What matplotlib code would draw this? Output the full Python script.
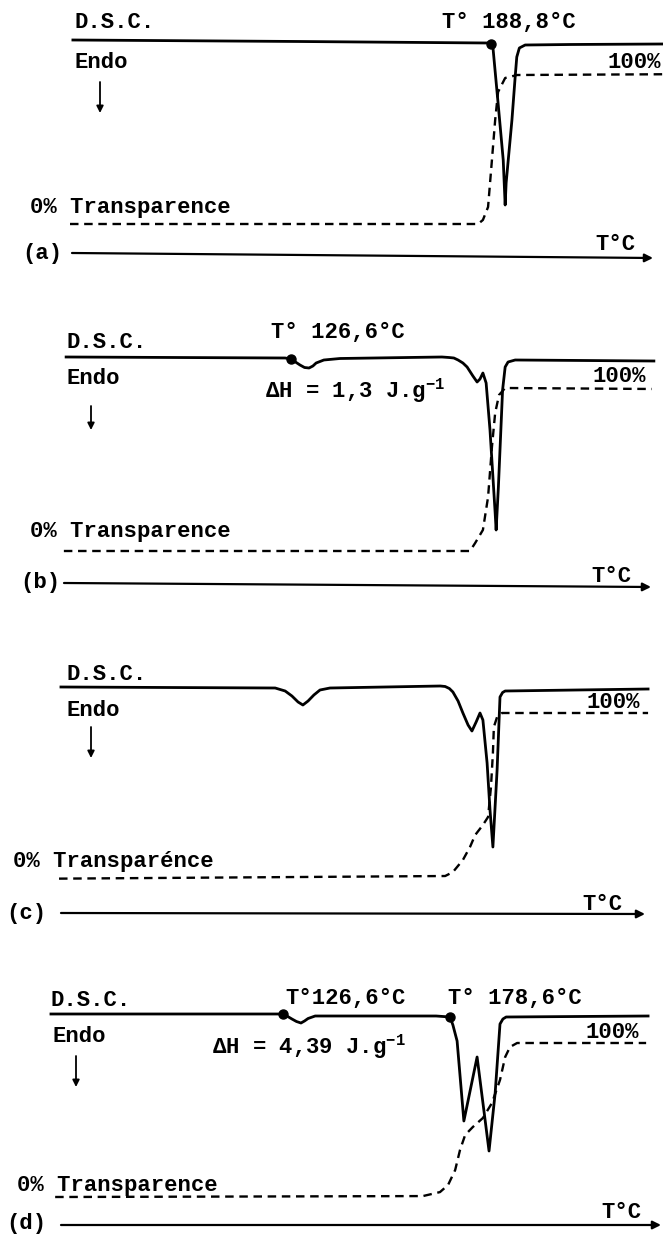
import matplotlib.pyplot as plt

plt.rcParams['font.family'] = ['Liberation Mono', 'DejaVu Sans Mono']
plt.rcParams['font.weight'] = 'bold'
plt.rcParams['mathtext.default'] = 'regular'

W, H = 663, 1235

# values: T in degC, DSC in arbitrary units (0 = baseline,
# negative = endo), transparency in %
# (a)
dsc_a_T = [59.6, 130.0, 188.3, 189.2, 189.8, 191.4, 193.0, 193.6, 193.9, 195.7, 196.7, 197.2, 198.0, 199.8, 213.7, 242.5]
dsc_a_q = [0.1, -0.05, -0.2, -0.25, -0.6, -6.2, -11.9, -16.4, -14.2, -7.9, -3.6, -1.6, -0.7, -0.4, -0.35, -0.3]
tr_a_T = [58.7, 185.2, 186.7, 188.3, 189.5, 190.5, 191.4, 193.6, 197.3, 242.5]
tr_a_p = [0, 0, 2.7, 11.4, 43.0, 69.8, 88.6, 98.0, 100, 100.5]
onset_a = [189.2]

# (b)
dsc_b_T = [57.5, 125.4, 127.2, 128.6, 130.0, 131.4, 132.8, 134.0, 135.0, 137.4, 142.4, 174.0, 176.2, 177.7, 179.0,
           180.5, 181.8, 183.6, 184.9, 185.8, 186.7, 187.7, 188.9, 190.5, 190.8, 191.5, 192.8, 193.6, 194.5,
           196.7, 239.7]
dsc_b_q = [0, -0.1, -0.2, -0.5, -0.8, -1.05, -1.1, -0.9, -0.6, -0.3, -0.15, 0, -0.05, -0.1, -0.3,
           -0.6, -1.0, -1.9, -2.5, -2.2, -1.6, -2.6, -7.3, -15.6, -17.3, -13.0, -3.3, -1.0, -0.5,
           -0.3, -0.4]
tr_b_T = [56.8, 182.7, 184.3, 186.7, 188.3, 189.5, 190.5, 191.7, 193.6, 239.1]
tr_b_p = [0, 0, 4.9, 12.9, 33.1, 63.8, 84.7, 95.7, 100, 99.4]
onset_b = [127.2]

# (c)
dsc_c_T = [55.9, 122.3, 125.4, 127.5, 129.4, 130.9, 132.5, 134.3, 136.2, 139.3, 173.5, 175.0, 176.3, 177.4,
           179.0, 180.5, 182.1, 183.3, 184.6, 185.8, 186.7, 188.0, 188.9, 189.8, 191.1, 192.0, 192.8, 193.6, 237.9]
dsc_c_q = [0, -0.1, -0.4, -0.9, -1.5, -1.8, -1.4, -0.8, -0.3, -0.1, 0.1, 0.05, -0.15, -0.5,
           -1.4, -2.6, -3.8, -4.4, -3.5, -2.6, -3.3, -7.6, -12.3, -16.0, -8.3, -1.0, -0.55, -0.4, -0.2]
tr_c_T = [55.3, 175.0, 177.4, 180.5, 182.7, 184.3, 186.7, 188.3, 189.2, 189.8, 190.1, 191.1, 192.6, 237.9]
tr_c_p = [-1.0, 0.6, 3.0, 10.4, 18.3, 25.6, 31.7, 36.6, 54.9, 75.6, 91.5, 97.6, 100, 100]

# (d)
dsc_d_T = [52.8, 123.2, 124.7, 126.2, 127.5, 128.9, 130.3, 131.4, 132.5, 134.7, 172.2, 176.5, 177.4, 178.7,
           180.8, 184.9, 188.6, 190.5, 192.0, 192.9, 193.9, 237.9]
dsc_d_q = [0, 0, 0, -0.25, -0.5, -0.75, -0.9, -0.7, -0.45, -0.2, -0.2, -0.3, -1.1, -2.7,
           -10.7, -4.3, -13.7, -7.9, -1.0, -0.5, -0.3, -0.2]
tr_d_T = [54.1, 168.1, 173.4, 175.9, 178.1, 179.6, 181.2, 183.6, 186.7, 189.5, 192.0, 193.6, 195.1, 197.3, 237.3]
tr_d_p = [0, 0.6, 3.2, 7.8, 17.5, 30.5, 40.3, 45.5, 51.3, 61.0, 76.0, 90.9, 97.4, 100, 100]
onset_d = [124.7, 176.5]

panel_labels = ['(a)', '(b)', '(c)', '(d)']
transp_labels = ['0% Transparence', '0% Transparence', '0% Transparénce', '0% Transparence']
onset_labels = [['T° 188,8°C'], ['T° 126,6°C'], [], ['T°126,6°C', 'T° 178,6°C']]
dh_labels = [None, r'ΔH = 1,3 J.g$^{-1}$', None, r'ΔH = 4,39 J.g$^{-1}$']

dsc_T = [dsc_a_T, dsc_b_T, dsc_c_T, dsc_d_T]
dsc_q = [dsc_a_q, dsc_b_q, dsc_c_q, dsc_d_q]
tr_T = [tr_a_T, tr_b_T, tr_c_T, tr_d_T]
tr_p = [tr_a_p, tr_b_p, tr_c_p, tr_d_p]
onsets = [onset_a, onset_b, [], onset_d]

# layout (pixels of the scan)
bands = [(0, 290), (290, 620), (620, 945), (945, 1235)]
dsc_row = [41, 357, 687, 1014]          # baseline row
zero_row = [224, 551, 877, 1197]        # 0 % row
full_row = [75, 388, 713, 1043]         # 100 % row
px_per_unit = 10.0
T0, dT = 37.0, 0.31                     # degC at x=0, degC per pixel

fs = 16
fig = plt.figure(figsize=(W / 100, H / 100), dpi=100)


def ftext(x, y, s, ha='left', **kw):
    fig.text(x / W, 1 - y / H, s, ha=ha, va='center', fontsize=fs, fontweight='bold', **kw)


def farrow(x0, y0, x1, y1, ms=10, lw=1.3):
    fig.add_artist(plt.Annotation('', xy=(x1 / W, 1 - y1 / H), xytext=(x0 / W, 1 - y0 / H),
                                  xycoords='figure fraction',
                                  arrowprops=dict(arrowstyle='-|>', color='black', lw=lw,
                                                  mutation_scale=ms, shrinkA=0, shrinkB=0)))


for i in range(4):
    top, bot = bands[i]
    ax = fig.add_axes([0, 1 - bot / H, 1, (bot - top) / H])
    ax.set_xlim(T0, T0 + dT * W)
    ax.set_ylim((dsc_row[i] - bot) / px_per_unit, (dsc_row[i] - top) / px_per_unit)
    ax.axis('off')
    ax.plot(dsc_T[i], dsc_q[i], color='black', lw=2.0, solid_joinstyle='round', clip_on=False)
    for t in onsets[i]:
        k = dsc_T[i].index(t)
        ax.plot(t, dsc_q[i][k], 'o', color='black', ms=6.5, clip_on=False)

    tx = ax.twinx()
    span = zero_row[i] - full_row[i]
    tx.set_ylim((zero_row[i] - bot) / span * 100, (zero_row[i] - top) / span * 100)
    tx.axis('off')
    tx.plot(tr_T[i], tr_p[i], color='black', lw=1.7, linestyle=(0, (3.6, 2.4)), clip_on=False)

# text and arrows, positions in scan pixels
# (a)
ftext(74, 23, 'D.S.C.')
ftext(442, 23, onset_labels[0][0])
ftext(74, 62, 'Endo')
farrow(100, 82, 100, 113)
ftext(661, 62, '100%', ha='right')
ftext(30, 207, transp_labels[0])
ftext(22, 253, panel_labels[0])
farrow(72, 253, 653, 258, ms=12, lw=1.6)
ftext(595, 244, 'T°C')

# (b)
ftext(66, 343, 'D.S.C.')
ftext(271, 333, onset_labels[1][0])
ftext(265, 391, dh_labels[1])
ftext(66, 379, 'Endo')
farrow(91, 406, 91, 430)
ftext(646, 376, '100%', ha='right')
ftext(30, 532, transp_labels[1])
ftext(20, 583, panel_labels[1])
farrow(64, 583, 651, 587, ms=12, lw=1.6)
ftext(591, 576, 'T°C')

# (c)
ftext(66, 674, 'D.S.C.')
ftext(66, 710, 'Endo')
farrow(91, 727, 91, 758)
ftext(640, 702, '100%', ha='right')
ftext(13, 862, transp_labels[2])
ftext(6, 913, panel_labels[2])
farrow(61, 913, 645, 914, ms=12, lw=1.6)
ftext(582, 904, 'T°C')

# (d)
ftext(51, 1000, 'D.S.C.')
ftext(285, 998, onset_labels[3][0])
ftext(448, 998, onset_labels[3][1])
ftext(212, 1047, dh_labels[3])
ftext(52, 1036, 'Endo')
farrow(76, 1056, 76, 1087)
ftext(639, 1032, '100%', ha='right')
ftext(17, 1186, transp_labels[3])
ftext(6, 1223, panel_labels[3])
farrow(61, 1225, 661, 1225, ms=12, lw=1.6)
ftext(601, 1213, 'T°C')

plt.savefig('out.png', dpi=100)
